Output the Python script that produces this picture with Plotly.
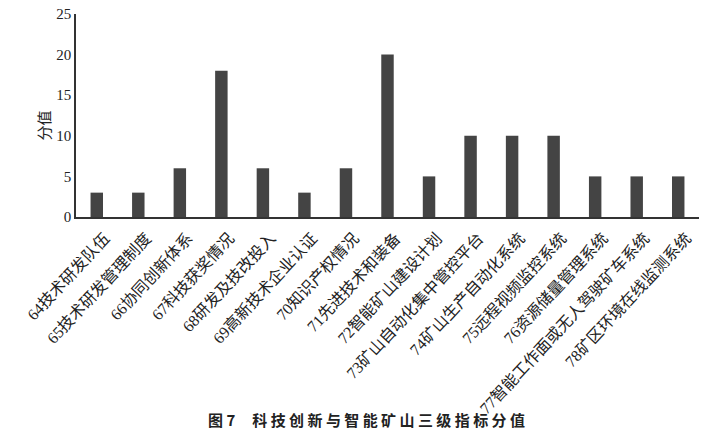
import plotly.graph_objects as go

categories = ["64技术研发队伍", "65技术研发管理制度", "66协同创新体系", "67科技获奖情况",
              "68研发及技改投入", "69高新技术企业认证", "70知识产权情况", "71先进技术和装备",
              "72智能矿山建设计划", "73矿山自动化集中管控平台", "74矿山生产自动化系统",
              "75远程视频监控系统", "76资源储量管理系统", "77智能工作面或无人驾驶矿车系统",
              "78矿区环境在线监测系统"]
values = [3, 3, 6, 18, 6, 3, 6, 20, 5, 10, 10, 10, 5, 5, 5]
y_ticks = [0, 5, 10, 15, 20, 25]

fig = go.Figure(go.Bar(x=categories, y=values, marker=dict(color="#444444", line=dict(width=0))))

W, H = 708, 445
L, R, T, B = 76, 9, 14, 228
fig.update_layout(
    width=W, height=H,
    margin=dict(l=L, r=R, t=T, b=B, autoexpand=False),
    plot_bgcolor="white", paper_bgcolor="white",
    bargap=0.7, showlegend=False,
    font=dict(family="Liberation Serif, Noto Sans CJK SC", color="#222"),
)
fig.update_xaxes(
    tickangle=-47, tickfont=dict(size=16, family="Liberation Serif, Noto Sans CJK SC", color="#222"),
    showline=True, linecolor="#333", linewidth=1.5, ticks="", showgrid=False,
    range=[-0.5, 14.5], automargin=False, ticklabelshift=8, ticklabelstandoff=4,
)
fig.update_yaxes(
    range=[0, 25], tickvals=y_ticks, ticks="", showgrid=False, zeroline=False,
    showline=True, linecolor="#333", linewidth=1.5, automargin=False,
    tickfont=dict(size=15, family="Liberation Serif", color="#222"),
)
fig.add_annotation(text="分值", textangle=-90, xref="paper", yref="paper",
                   x=(30 - L) / (W - L - R), y=(217 - 125) / (217 - T),
                   showarrow=False, font=dict(size=15, family="Noto Sans CJK SC", color="#222"))
caption_title = "科技创新与智能矿山三级指标分值"
caption = "<b>图\u00a07" + "\u00a0" * 5 + " ".join(caption_title) + "</b>"
fig.add_annotation(text=caption, xref="paper", yref="paper",
                   x=(366 - L) / (W - L - R), y=-(432 - 217) / (217 - T),
                   showarrow=False, font=dict(size=15, family="Noto Sans CJK SC", color="#222"))
fig.write_html("out.html", config={"displayModeBar": False},
               post_script="document.body.style.margin='0';")
